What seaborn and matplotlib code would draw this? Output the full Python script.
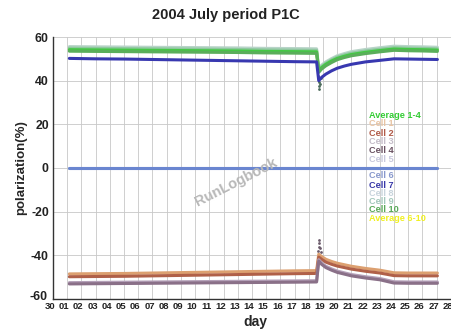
import numpy as np
import pandas as pd
import matplotlib
matplotlib.use("Agg")
import matplotlib.pyplot as plt
import matplotlib.transforms as mtransforms
import seaborn as sns

# ---------------- data ----------------
day_labels = ["30"] + ["%02d" % d for d in range(1, 29)]
x_day = [1.15, 3, 5, 7, 9, 11, 13, 15, 17, 18.55, 18.7, 18.9, 19.2, 19.6, 20.0,
         20.5, 21, 22, 23, 24, 25, 26, 27.05]

avg_1_4 = [54.2, 54.1, 54.0, 53.9, 53.8, 53.7, 53.6, 53.4, 53.3, 53.2, 44.5, 46.0,
           47.5, 49.0, 50.2, 51.2, 52.0, 53.0, 53.8, 54.5, 54.3, 54.2, 54.0]
avg_6_10 = [54.5, 54.4, 54.3, 54.2, 54.1, 54.0, 53.9, 53.7, 53.6, 53.5, 44.8, 46.3,
            47.8, 49.3, 50.5, 51.5, 52.3, 53.3, 54.1, 54.8, 54.6, 54.5, 54.3]
cell_8 = [55.6, 55.5, 55.4, 55.3, 55.2, 55.1, 55.0, 54.8, 54.7, 54.6, 45.6, 47.1,
          48.6, 50.1, 51.4, 52.4, 53.3, 54.3, 55.1, 55.8, 55.6, 55.5, 55.3]
cell_9 = [54.9, 54.8, 54.7, 54.6, 54.5, 54.4, 54.3, 54.1, 54.0, 53.9, 45.0, 46.5,
          48.0, 49.5, 50.8, 51.8, 52.6, 53.6, 54.4, 55.1, 54.9, 54.8, 54.6]
cell_10 = [53.5, 53.4, 53.3, 53.2, 53.1, 53.0, 52.9, 52.7, 52.6, 52.5, 43.8, 45.3,
           46.8, 48.3, 49.6, 50.6, 51.4, 52.4, 53.2, 53.9, 53.7, 53.6, 53.4]
cell_7 = [50.2, 50.0, 49.9, 49.7, 49.5, 49.3, 49.1, 48.9, 48.7, 48.6, 40.0, 41.5,
          43.0, 44.5, 45.7, 46.7, 47.5, 48.6, 49.3, 50.0, 49.9, 49.8, 49.7]
cell_5 = [0.0, 0.0, 0.0, 0.0, 0.0, 0.0, 0.0, 0.0, 0.0, 0.0, 0.0, 0.0,
          0.0, 0.0, 0.0, 0.0, 0.0, 0.0, 0.0, 0.0, 0.0, 0.0, 0.0]
cell_6 = [0.0, 0.0, 0.0, 0.0, 0.0, 0.0, 0.0, 0.0, 0.0, 0.0, 0.0, 0.0,
          0.0, 0.0, 0.0, 0.0, 0.0, 0.0, 0.0, 0.0, 0.0, 0.0, 0.0]
cell_1 = [-48.5, -48.4, -48.3, -48.1, -47.9, -47.7, -47.5, -47.3, -47.1, -47.0, -39.5,
          -40.5, -41.8, -42.8, -43.6, -44.3, -45.0, -46.0, -46.8, -48.0, -48.1, -48.1, -48.1]
cell_2 = [-49.8, -49.7, -49.6, -49.4, -49.2, -49.0, -48.8, -48.6, -48.4, -48.3, -40.8,
          -41.8, -43.1, -44.1, -44.9, -45.6, -46.3, -47.3, -48.1, -49.3, -49.4, -49.4, -49.4]
cell_3 = [-52.5, -52.4, -52.3, -52.2, -52.1, -52.0, -51.9, -51.8, -51.7, -51.6, -42.0,
          -43.5, -45.0, -46.2, -47.2, -48.0, -48.8, -49.8, -50.6, -52.1, -52.2, -52.2, -52.2]
cell_4 = [-53.1, -53.0, -52.9, -52.8, -52.7, -52.6, -52.5, -52.4, -52.3, -52.2, -42.6,
          -44.1, -45.6, -46.8, -47.8, -48.6, -49.4, -50.4, -51.2, -52.7, -52.8, -52.8, -52.8]

# scattered outlier points around the break
spike_x = [18.65, 18.7, 18.72, 18.75, 18.8, 18.85]
spike_upper = [42.0, 39.5, 37.5, 36.0, 38.5, 41.0]
spike_lower = [-38.0, -36.0, -34.5, -33.0, -36.5, -38.5]

legend_names = ["Average 1-4", "Cell 1", "Cell 2", "Cell 3", "Cell 4", "Cell 5",
                "Cell 6", "Cell 7", "Cell 8", "Cell 9", "Cell 10", "Average 6-10"]
legend_colors = ["#33cc33", "#e8c4a4", "#b05a48", "#c4bcc8", "#6a5262", "#c8c8dc",
                 "#8898cc", "#3838a8", "#c8d4dc", "#a4c8bc", "#58a858", "#f0f020"]

series = {
    "Average 6-10": avg_6_10, "Cell 8": cell_8, "Cell 9": cell_9,
    "Average 1-4": avg_1_4, "Cell 10": cell_10, "Cell 7": cell_7,
    "Cell 5": cell_5, "Cell 6": cell_6,
    "Cell 1": cell_1, "Cell 2": cell_2, "Cell 3": cell_3, "Cell 4": cell_4,
}
line_colors = {
    "Average 6-10": "#e8e840", "Cell 8": "#b8d4c8", "Cell 9": "#90c8a0",
    "Average 1-4": "#44c844", "Cell 10": "#5aae5a", "Cell 7": "#3838b0",
    "Cell 5": "#a8b4dc", "Cell 6": "#6a86d0",
    "Cell 1": "#dca070", "Cell 2": "#b06048", "Cell 3": "#b4a0b8", "Cell 4": "#8a7088",
}

rows = []
for name, vals in series.items():
    for xv, yv in zip(x_day, vals):
        rows.append((name, xv, yv))
df = pd.DataFrame(rows, columns=["series", "day", "pol"])

# ---------------- plot ----------------
sns.set_style("white")
plt.rcParams["font.family"] = ["Liberation Sans", "DejaVu Sans"]

fig = plt.figure(figsize=(4.52, 3.31), dpi=100)
W, H = 452.0, 331.0
ax = fig.add_axes([53 / W, 1 - 299 / H, (458 - 53) / W, (299 - 37) / H])

sns.lineplot(data=df, x="day", y="pol", hue="series", hue_order=list(series.keys()),
             palette=line_colors, estimator=None, sort=False, legend=False,
             linewidth=2.2, ax=ax)
sns.scatterplot(x=spike_x, y=spike_upper, color="#4a6a5a", s=4, linewidth=0, ax=ax)
sns.scatterplot(x=spike_x, y=spike_lower, color="#6a5a6a", s=4, linewidth=0, ax=ax)

ax.set_xlim(0, 28.5)
ax.set_ylim(-60, 60)
ax.set_xticks(range(len(day_labels)))
ax.set_xticklabels(day_labels, fontsize=6.8, fontweight="bold", color="#222222")
ax.set_yticks([-60, -40, -20, 0, 20, 40, 60])
ax.set_yticklabels(["-60", "-40", "-20", "0", "20", "40", "60"], fontsize=8.8,
                   fontweight="bold", color="#222222")
ax.set_yticks(np.arange(-60, 61, 5), minor=True)
ax.tick_params(axis="x", direction="in", length=4, width=0.8, pad=2, colors="#333333",
               labelcolor="#222222")
ax.tick_params(axis="y", which="major", direction="in", length=6, width=0.8, pad=3,
               colors="#333333", labelcolor="#222222")
ax.tick_params(axis="y", which="minor", direction="in", length=3, width=0.6,
               colors="#555555")
offset = mtransforms.ScaledTranslation(-3 / 100, 0, fig.dpi_scale_trans)
for lab in ax.get_xticklabels():
    lab.set_transform(lab.get_transform() + offset)
ylabs = ax.get_yticklabels()
ylabs[0].set_transform(ylabs[0].get_transform() +
                       mtransforms.ScaledTranslation(-1 / 100, 4 / 100, fig.dpi_scale_trans))

ax.grid(True, axis="x", color="#c8c8c8", linewidth=0.6)
ax.grid(True, axis="y", which="major", color="#c8c8c8", linewidth=0.6)
ax.set_axisbelow(True)
for s in ["top", "right"]:
    ax.spines[s].set_visible(False)
for s in ["left", "bottom"]:
    ax.spines[s].set_color("#333333")
    ax.spines[s].set_linewidth(1.0)

ax.set_xlabel("day", fontsize=10, fontweight="bold", labelpad=3)
ax.set_ylabel("polarization(%)", fontsize=9.5, fontweight="bold", labelpad=2)
fig.text(226 / W, 1 - 15 / H, "2004 July period P1C", ha="center", va="center",
         fontsize=10.5, fontweight="bold", color="#222222")

# colored legend text
legend_y = [115, 124, 133, 141.7, 150.5, 159.3, 176, 185, 193.3, 201.7, 210, 218.5]
for name, col, yy in zip(legend_names, legend_colors, legend_y):
    fig.text(369 / W, 1 - yy / H, name, ha="left", va="center", fontsize=6.6,
             fontweight="bold", color=col)

# watermark
fig.text(236 / W, 1 - 182 / H, "RunLogbook", ha="center", va="center", rotation=27,
         fontsize=10.5, fontweight="bold", color="#b8b8b8")

fig.savefig("out.png", dpi=100)
